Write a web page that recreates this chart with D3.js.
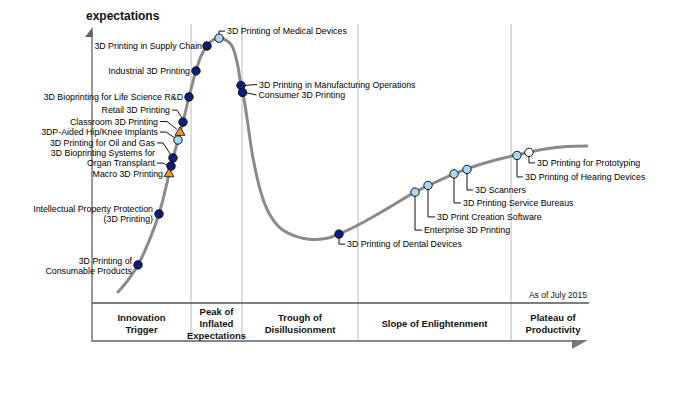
<!DOCTYPE html>
<html><head><meta charset="utf-8">
<script src="https://cdn.jsdelivr.net/npm/d3@7"></script>
<style>
body{margin:0;background:#fff;}
svg{display:block;font-family:"Liberation Sans",Arial,sans-serif;}
</style>
</head><body>
<svg id="c" width="680" height="396"></svg>
<script>
// ---------- DATA ----------
const yAxisTitle = "expectations";
const asOfText = "As of July 2015";

// hype curve (time 0-100, expectations 0-100)
const curveTime = [5.2, 7.2, 9.2, 11.4, 13.4, 14.8, 16.0, 17.2, 18.4, 19.4, 20.8, 21.8, 23.0, 24.2, 25.4,
  26.8, 28.0, 29.0, 29.8, 30.4, 31.2, 32.2, 34.0, 35.6, 37.6, 40.0, 42.4, 44.8, 47.2, 49.4,
  53.6, 59.2, 64.6, 69.6, 75.0, 80.0, 85.0, 90.6, 95.0, 99.0];
const curveExpectation = [3.9, 8.2, 13.6, 22.1, 31.8, 41.4, 50.4, 58.2, 66.1, 73.6, 82.9, 88.2, 91.8, 93.9, 94.6,
  93.9, 91.8, 86.1, 77.9, 72.9, 63.6, 51.8, 38.2, 31.4, 26.8, 24.3, 23.0, 22.7, 23.2, 24.6,
  28.2, 33.9, 39.6, 43.9, 47.9, 50.7, 52.9, 55.0, 55.9, 56.1];

const technologies = [
  ["3D Printing of", "Consumable Products"],
  ["Intellectual Property Protection", "(3D Printing)"],
  ["Macro 3D Printing"],
  ["3D Bioprinting Systems for", "Organ Transplant"],
  ["3D Printing for Oil and Gas"],
  ["3DP-Aided Hip/Knee Implants"],
  ["Classroom 3D Printing"],
  ["Retail 3D Printing"],
  ["3D Bioprinting for Life Science R&D"],
  ["Industrial 3D Printing"],
  ["3D Printing in Supply Chain"],
  ["3D Printing of Medical Devices"],
  ["3D Printing in Manufacturing Operations"],
  ["Consumer 3D Printing"],
  ["3D Printing of Dental Devices"],
  ["Enterprise 3D Printing"],
  ["3D Print Creation Software"],
  ["3D Printing Service Bureaus"],
  ["3D Scanners"],
  ["3D Printing of Hearing Devices"],
  ["3D Printing for Prototyping"]
];
const techTime = [9.2, 13.4, 15.4, 15.8, 16.2, 17.2, 17.6, 18.2, 19.4, 20.8, 23.0, 25.4, 29.8, 30.1,
  49.4, 64.6, 67.2, 72.4, 75.0, 85.0, 87.4];
const techExpectation = [13.6, 31.8, 46.1, 48.9, 51.8, 58.2, 60.9, 64.6, 73.6, 82.9, 91.8, 94.6, 77.7, 75.2,
  24.6, 39.6, 42.0, 46.1, 47.7, 52.7, 53.8];
// plateau timing class: dark = 5-10 yrs, light = 2-5 yrs, white = <2 yrs, tri = >10 yrs
const techStatus = ["dark", "dark", "tri", "dark", "dark", "light", "tri", "dark", "dark", "dark", "dark",
  "light", "dark", "dark", "dark", "light", "light", "light", "light", "light", "white"];

const phaseNames = [
  ["Innovation", "Trigger"],
  ["Peak of", "Inflated", "Expectations"],
  ["Trough of", "Disillusionment"],
  ["Slope of Enlightenment"],
  ["Plateau of", "Productivity"]
];
const phaseBounds = [0, 19.8, 30, 53.2, 83.8, 100.6];

// ---------- LAYOUT (pixel offsets of labels relative to their marker) ----------
const labelLayout = [
  {a: "end", dx: -6, dy: -4},
  {a: "end", dx: -6, dy: -5},
  {a: "end", dx: -6, dy: 0},
  {a: "end", dx: -16, dy: -13, leader: [[-14, -3], [-8, -3], [-2, 0]]},
  {a: "end", dx: -18, dy: -15, leader: [[-16, -15], [-10, -15], [-2, -3]]},
  {a: "end", dx: -20, dy: -8, leader: [[-18, -8], [-12, -8], [-3, -2]]},
  {a: "end", dx: -22, dy: -11, leader: [[-20, -11], [-13, -11], [-3, -3]]},
  {a: "end", dx: -13, dy: -12, leader: [[-11, -12], [-6, -12], [-1, -4]]},
  {a: "end", dx: -6, dy: 0},
  {a: "end", dx: -6, dy: 0},
  {a: "end", dx: -5, dy: 0},
  {a: "start", dx: 8, dy: -7, leader: [[0, -4], [0, -7], [6, -7]]},
  {a: "start", dx: 18, dy: -1, leader: [[4, 0], [16, -1]]},
  {a: "start", dx: 16, dy: 2.5, leader: [[4, 0.5], [14, 2.5]]},
  {a: "start", dx: 8, dy: 10, leader: [[0, 4], [0, 10], [6, 10]]},
  {a: "start", dx: 9, dy: 38, leader: [[0, 4], [0, 38], [7, 38]]},
  {a: "start", dx: 9, dy: 31.5, leader: [[0, 4], [0, 31.5], [7, 31.5]]},
  {a: "start", dx: 9, dy: 29, leader: [[0, 4], [0, 29], [7, 29]]},
  {a: "start", dx: 8, dy: 20.5, leader: [[0, 4], [0, 20.5], [6, 20.5]]},
  {a: "start", dx: 8, dy: 21.5, leader: [[0, 4], [0, 21.5], [6, 21.5]]},
  {a: "start", dx: 8, dy: 10.5, leader: [[0, 4], [0, 10.5], [6, 10.5]]}
];

// ---------- DRAW ----------
const svg = d3.select("#c");
const x = d3.scaleLinear().domain([0, 100]).range([92, 592]);
const y = d3.scaleLinear().domain([0, 100]).range([303, 23]);
const axisX = x(0), bandTop = y(0), axisBottom = 341, topY = 24;

// phase dividers
svg.append("g").selectAll("line").data(phaseBounds.slice(1, 5)).join("line")
  .attr("x1", d => x(d)).attr("x2", d => x(d))
  .attr("y1", topY).attr("y2", axisBottom)
  .attr("stroke", "#d2d2d2").attr("stroke-width", 1.5);

// y axis + arrow
svg.append("line").attr("x1", axisX).attr("x2", axisX).attr("y1", 32).attr("y2", axisBottom)
  .attr("stroke", "#777").attr("stroke-width", 1.5);
svg.append("path").attr("d", `M${axisX - 7},37 L${axisX + 0.75},27 L${axisX + 0.75},37 Z`).attr("fill", "#666");
svg.append("text").attr("x", 86).attr("y", 20).attr("font-size", 12).attr("font-weight", "bold")
  .attr("fill", "#111").text(yAxisTitle);

// phase band lines
svg.append("line").attr("x1", axisX).attr("x2", 589).attr("y1", bandTop).attr("y2", bandTop)
  .attr("stroke", "#555").attr("stroke-width", 1.5);
svg.append("line").attr("x1", axisX - 0.75).attr("x2", 580).attr("y1", axisBottom).attr("y2", axisBottom)
  .attr("stroke", "#888").attr("stroke-width", 2);
svg.append("path").attr("d", `M572,${axisBottom - 1} L588,${axisBottom - 1} L572,${axisBottom + 8} Z`).attr("fill", "#777");

svg.append("text").attr("x", 587).attr("y", 298).attr("text-anchor", "end")
  .attr("font-size", 8.5).attr("fill", "#111").text(asOfText);

// phase labels
const pg = svg.append("g").attr("font-size", 9.5).attr("font-weight", "bold").attr("fill", "#111")
  .attr("text-anchor", "middle");
phaseNames.forEach((lines, i) => {
  const cx = x((phaseBounds[i] + phaseBounds[i + 1]) / 2);
  const lh = 12;
  const y0 = 324 - (lines.length - 1) * lh / 2;
  const t = pg.append("text").attr("x", cx);
  lines.forEach((l, j) => t.append("tspan").attr("x", cx).attr("y", y0 + j * lh).attr("dy", "0.35em").text(l));
});

// curve
const pts = curveTime.map((t, i) => [x(t), y(curveExpectation[i])]);
svg.append("path").attr("d", d3.line().curve(d3.curveCatmullRom.alpha(0.5))(pts))
  .attr("fill", "none").attr("stroke", "#8a8a8a").attr("stroke-width", 3).attr("stroke-linecap", "round");

// leaders
const lg = svg.append("g").attr("fill", "none").attr("stroke", "#111").attr("stroke-width", 1);
technologies.forEach((name, i) => {
  const L = labelLayout[i];
  if (!L.leader) return;
  const mx = x(techTime[i]), my = y(techExpectation[i]);
  lg.append("path").attr("d", d3.line()(L.leader.map(p => [mx + p[0], my + p[1]])));
});

// markers
const fills = {dark: "#0c1d7a", light: "#a9d5f7", white: "#ffffff", tri: "#f39a1d"};
const mg = svg.append("g");
technologies.forEach((name, i) => {
  const mx = x(techTime[i]), my = y(techExpectation[i]);
  const s = techStatus[i];
  if (s === "tri") {
    mg.append("path").attr("d", d3.symbol(d3.symbolTriangle, 42)())
      .attr("transform", `translate(${mx},${my})`)
      .attr("fill", fills.tri).attr("stroke", "#1a1a1a").attr("stroke-width", 0.9);
  } else {
    mg.append("circle").attr("cx", mx).attr("cy", my).attr("r", 4.2)
      .attr("fill", fills[s]).attr("stroke", "#111").attr("stroke-width", 1);
  }
});

// labels
const tg = svg.append("g").attr("font-size", 8.8).attr("fill", "#000");
technologies.forEach((lines, i) => {
  const L = labelLayout[i];
  const mx = x(techTime[i]), my = y(techExpectation[i]);
  const t = tg.append("text").attr("text-anchor", L.a);
  lines.forEach((l, j) => t.append("tspan").attr("x", mx + L.dx).attr("y", my + L.dy + j * 9.6)
    .attr("dy", "0.35em").text(l));
});
</script>
</body></html>
